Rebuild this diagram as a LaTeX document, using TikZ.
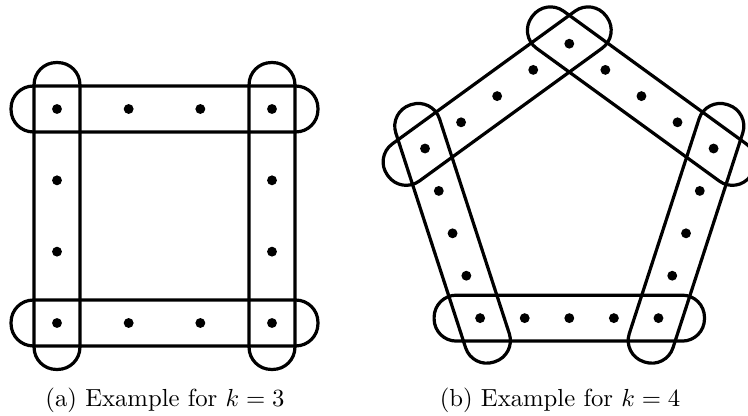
\documentclass[tikz,border=0pt]{standalone}
\usepackage{tikz}
\usetikzlibrary{positioning,calc}
\tikzset{
  vtx/.style={circle,fill,inner sep=0pt,minimum size=4pt},
  hedge/.style={draw,line width=1.3pt,rounded corners=9pt,inner sep=0pt,
                minimum height=18.6pt},
  sqedge/.style={hedge,minimum width=124.3pt},
  pentedge/.style={hedge,minimum width=109.5pt},
  subcap/.style={anchor=base,font=\normalsize},
}
\begin{document}
\begin{tikzpicture}[x=0.405pt,y=0.405pt]
  \useasboundingbox (0,0) rectangle (748,416);
  % (a) k=3, square
  \node[vtx] (s1) at (57,307)  {};
  \node[vtx] (s2) at (272,307) {};
  \node[vtx] (s3) at (272,93)  {};
  \node[vtx] (s4) at (57,93)   {};
  \foreach \a/\b in {s1/s2,s2/s3,s3/s4,s4/s1}
    \foreach \t in {1,2}
      \node[vtx] (\a\b\t) at ($(\a)!\t/3!(\b)$) {};
  \node[sqedge] (e1) at ($(s1)!.5!(s2)$) {};
  \node[sqedge] (e3) at ($(s4)!.5!(s3)$) {};
  \node[sqedge,rotate=90] (e2) at ($(s2)!.5!(s3)$) {};
  \node[sqedge,rotate=90] (e4) at ($(s1)!.5!(s4)$) {};

  % (b) k=4, pentagon
  \coordinate (c) at (569.3,220.6);
  \foreach \i in {0,...,4}
    \node[vtx] (p\i) at ($(c)+({90+72*\i}:151.7)$) {};
  \foreach \i/\j/\r in {0/1/36,1/2/108,2/3/180,3/4/252,4/0/324}{
    \foreach \t in {1,2,3}
      \node[vtx] (p\i\j\t) at ($(p\i)!\t/4!(p\j)$) {};
    \node[pentedge,rotate=\r] (f\i) at ($(p\i)!.5!(p\j)$) {};
  }

  \node[subcap] (capa) at (165,9) {(a) Example for $k=3$};
  \node[subcap] (capb) at (560,9) {(b) Example for $k=4$};
\end{tikzpicture}
\end{document}
